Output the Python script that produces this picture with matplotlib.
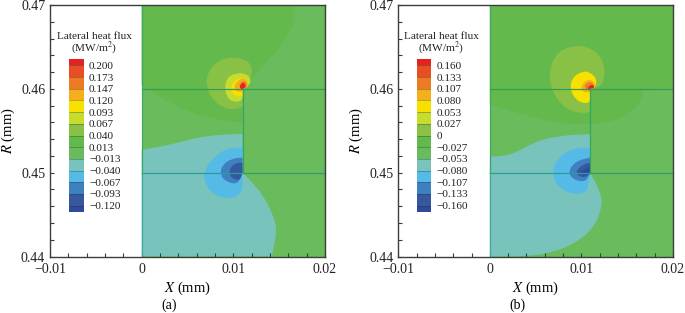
#!/usr/bin/env python3
from matplotlib import pyplot as plt
from matplotlib.colors import ListedColormap
from matplotlib.patches import PathPatch
from matplotlib.path import Path
import numpy as np

plt.rcParams['font.family'] = ['Liberation Serif', 'DejaVu Serif']

# colour of each band, from the lowest one to the highest one
band_colors = ['#2f4a9c', '#37589f', '#3f80c0', '#55bbe6', '#78c4bc', '#6abb5b', '#63b94c',
               '#88c145', '#c8dc2c', '#f8e000', '#f4ae1e', '#ec7b24', '#e84e25', '#e2231f']

labels_a = ['0.200', '0.173', '0.147', '0.120', '0.093', '0.067', '0.040', '0.013',
            '\u22120.013', '\u22120.040', '\u22120.067', '\u22120.093', '\u22120.120']
labels_b = ['0.160', '0.133', '0.107', '0.080', '0.053', '0.027', '0', '\u22120.027',
            '\u22120.053', '\u22120.080', '\u22120.107', '\u22120.133', '\u22120.160']

# contour outlines as (X, R), with the band they enclose
a_outlines = [
    (6, [(0, .47), (.0164, .47), (.0168, .4682), (.0155, .4655), (.0133, .4628), (.0116, .4607),
         (.011, .46), (.011, .456), (.0071, .4565), (.0042, .4577), (.0016, .4593), (.0007, .46), (0, .4605)]),
    (4, [(0, .4527), (.0034, .4534), (.0064, .4543), (.0096, .4546), (.011, .4546), (.011, .45),
         (.0122, .4487), (.0134, .447), (.0143, .445), (.0148, .4432), (.0142, .44), (0, .44)]),
    (3, [(.011, .453), (.0092, .4529), (.0076, .4516), (.0067, .4499), (.0071, .4481), (.0085, .447),
         (.0105, .447), (.011, .4483), (.011, .45)]),
    (2, [(.011, .4518), (.0098, .4517), (.0087, .4508), (.0086, .4497), (.0092, .4489), (.0105, .4486),
         (.011, .45)]),
    (1, [(.011, .4512), (.0101, .4511), (.0095, .4503), (.0097, .4494), (.0107, .449), (.011, .45)]),
    (7, [(.011, .46), (.0119, .4609), (.0121, .4625), (.0114, .4635), (.0100, .4638), (.0083, .4634),
         (.0071, .4618), (.0071, .4600), (.0079, .4585), (.0090, .4577), (.0102, .4575), (.011, .4579)]),
    (8, [(.0105, .4619), (.0094, .4615), (.009, .4601), (.0095, .4586), (.0107, .4584), (.011, .4589),
         (.011, .46), (.0118, .4604), (.0119, .4613), (.0113, .4618)]),
    (9, [(.0113, .4613), (.0103, .4612), (.0097, .4603), (.01, .4592), (.011, .4591), (.011, .46), (.0117, .4602)]),
    (10, [(.0113, .4613), (.0106, .4611), (.0100, .4603), (.0104, .4596), (.011, .4597), (.011, .46), (.0117, .4602)]),
    (11, [(.0113, .4611), (.0105, .4605), (.011, .4598), (.011, .46), (.0116, .4602)]),
    (13, [(.0111, .4609), (.0106, .4602), (.011, .4599), (.011, .46), (.0114, .4602)]),
]
b_outlines = [
    (6, [(0, .47), (.02, .47), (.02, .4601), (.0165, .46), (.0168, .4592), (.0158, .4574), (.0133, .456),
         (.0104, .4557), (.0067, .456), (.0031, .4571), (0, .4581)]),
    (4, [(0, .4519), (.0024, .4521), (.0049, .4537), (.0075, .4544), (.01094, .4546), (.01094, .45),
         (.012, .4479), (.0123, .4462), (.0115, .4436), (.0093, .4415), (.006, .4402), (.0024, .44), (0, .44)]),
    (3, [(.01094, .453), (.0089, .4529), (.0073, .4516), (.0068, .45), (.0073, .4484), (.0089, .4474),
         (.0106, .4476), (.0108, .449), (.01094, .45)]),
    (2, [(.01094, .4518), (.0094, .4514), (.0085, .4501), (.0092, .4491), (.0105, .4489), (.01094, .45)]),
    (1, [(.01094, .4512), (.01, .4509), (.0093, .45), (.01, .4494), (.0107, .4496), (.01094, .45)]),
    (0, [(.01094, .4507), (.0103, .4504), (.0098, .45), (.0106, .4497), (.01094, .45)]),
    (7, [(.01094, .46), (.0117, .4601), (.0124, .4607), (.0126, .4625), (.012, .4641), (.0107, .465), (.0092, .4652),
         (.0073, .4644), (.0064, .462), (.0068, .4596), (.0083, .4575), (.0104, .457), (.01094, .4574)]),
    (9, [(.0102, .4621), (.0091, .4615), (.0087, .4601), (.0094, .4586), (.0106, .4582), (.01094, .4586),
         (.01094, .46), (.0115, .4601), (.0117, .4612), (.0109, .462)]),
    (10, [(.0115, .4607), (.0108, .4612), (.01, .4605), (.01, .4597), (.0109, .4595), (.01094, .46), (.0115, .4601)]),
    (11, [(.0114, .4606), (.0108, .4609), (.0102, .4602), (.0109, .4597), (.01094, .46)]),
    (13, [(.0112, .4606), (.0106, .4601), (.01094, .4598), (.01094, .46), (.0115, .4601)]),
]

x_labels = ['\u22120.01', '0', '0.01', '0.02']
x_major = [-.01, 0, .01, .02]
x_minor = [-.008, -.006, -.004, -.002, .002, .004, .006, .008, .012, .014, .016, .018]
r_labels = ['0.44', '0.45', '0.46', '0.47']
r_major = [.44, .45, .46, .47]
r_minor = [.442, .444, .446, .448, .452, .454, .456, .458, .462, .464, .466, .468]

W, H = 685, 313
fig = plt.figure(figsize=(W/100, H/100), dpi=100)


def rounded(pts, wall):
    # the read points steer a smooth outline, except at walls and frame edges
    verts, codes = [], []
    n = len(pts)
    mids = [((pts[i][0] + pts[(i+1) % n][0])/2, (pts[i][1] + pts[(i+1) % n][1])/2) for i in range(n)]
    verts.append(mids[-1])
    codes.append(Path.MOVETO)
    for i, p in enumerate(pts):
        if p[0] in (0, .02, wall) or p[1] in (.44, .47):
            verts += [p, mids[i]]
            codes += [Path.LINETO, Path.LINETO]
        else:
            verts += [p, mids[i]]
            codes += [Path.CURVE3, Path.CURVE3]
    return Path(verts, codes)


def draw_panel(left, right, outlines, labels, tag, bar_left, wall):
    ax = fig.add_axes([left/W, (H-256.5)/H, (right-left)/W, 251.5/H])
    ax.set_xlim(-.01, .02)
    ax.set_ylim(.44, .47)
    ax.fill_between([0, .02], .44, .47, color=band_colors[5], lw=0)
    for band, pts in outlines:
        ax.add_patch(PathPatch(rounded(pts, wall), facecolor=band_colors[band], lw=0))

    # mesh block edges
    ax.plot([0, .02], [.46, .46], color='#2f9e57', lw=.9)
    ax.plot([0, wall], [.45, .45], color='#2a9d9a', lw=.9)
    ax.plot([wall, .02], [.45, .45], color='#2f9e6a', lw=.9)
    ax.plot([wall, wall], [.45, .46], color='#2fa860', lw=.9)
    ax.plot([0, 0], [.44, .45], color='#3fa8a0', lw=.9)
    ax.plot([0, 0], [.45, .47], color='#3fa860', lw=.9)

    ax.set_xticks(x_major, x_labels, fontsize=10)
    ax.set_yticks(r_major, r_labels, fontsize=10)
    ax.set_xticks(x_minor, minor=True)
    ax.set_yticks(r_minor, minor=True)
    ax.tick_params(axis='x', which='major', direction='in', length=3.2, width=.8, color='#3a3a3a', labelcolor='#222222', pad=5)
    ax.tick_params(axis='y', which='major', direction='in', length=3.2, width=.8, color='#3a3a3a', labelcolor='#222222', pad=3.5)
    ax.tick_params(which='minor', direction='in', length=3.2, width=.8, color='#3a3a3a')
    for s in ax.spines.values():
        s.set_linewidth(1)
        s.set_color('#3a3f3a')
    ax.set_xlabel('$\\mathit{X}$ (mm)', fontsize=10.5, labelpad=2, math_fontfamily='stix')
    ax.set_ylabel('$\\mathit{R}$ (mm)', fontsize=10.5, labelpad=3, math_fontfamily='stix')
    ax.text(.003, -.193, tag, transform=ax.get_xaxis_transform(), ha='center', va='center', fontsize=10)

    # legend bar, end bands are half as tall as the others
    bar = fig.add_axes([bar_left/W, (H-212)/H, 14.5/W, 153/H])
    n = len(band_colors)
    pos = np.arange(n-1)
    edges = np.concatenate([[-.55], pos, [n-2+.55]])
    bar.pcolormesh([0, 1], edges, np.arange(n).reshape(-1, 1), cmap=ListedColormap(band_colors), shading='flat')
    bar.set_ylim(edges[0], edges[-1])
    bar.set_xlim(0, 1)
    bar.set_xticks([])
    bar.set_yticks(pos, labels[::-1], fontsize=8.1)
    bar.yaxis.tick_right()
    bar.tick_params(axis='y', length=0, pad=4, labelcolor='#222222')
    bar.hlines(pos, 0, 1, color='#222222', alpha=.35, lw=.6)
    for s in bar.spines.values():
        s.set_visible(False)
    fig.text((bar_left+25)/W, (H-36.5)/H, 'Lateral heat flux', ha='center', va='center', fontsize=8.1, color='#222222')
    fig.text((bar_left+25)/W, (H-48)/H, '(MW/m$^2$)', ha='center', va='center', fontsize=8.1, color='#222222', math_fontfamily='stix')
    return ax


draw_panel(50, 325, a_outlines, labels_a, '(a)', 69, .011)
draw_panel(398.3, 673, b_outlines, labels_b, '(b)', 416.5, .01094)

plt.savefig('out.png', dpi=100)
